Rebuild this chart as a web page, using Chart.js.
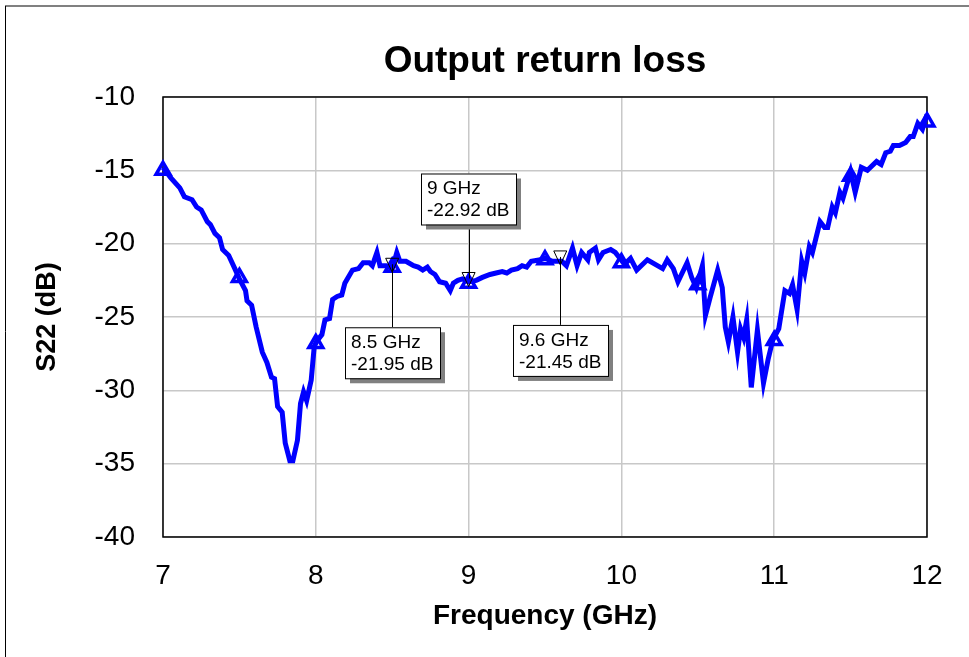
<!DOCTYPE html>
<html>
<head>
<meta charset="utf-8">
<style>
  body { margin: 0; background: #fff; }
  #c { display: block; }
</style>
<script src="https://cdn.jsdelivr.net/npm/chart.js"></script>
</head>
<body>
<canvas id="c" width="969" height="657"></canvas>
<script>
// measured S22 trace (GHz, dB)
var freq = [7.00, 7.05, 7.11, 7.14, 7.19, 7.22, 7.25, 7.29, 7.31, 7.34, 7.37, 7.39, 7.43, 7.47, 7.50,
  7.54, 7.55, 7.58, 7.61, 7.65, 7.68, 7.71, 7.73, 7.75, 7.78, 7.80, 7.83, 7.85, 7.88, 7.90, 7.92, 7.94,
  7.97, 7.99, 8.01, 8.04, 8.06, 8.09, 8.11, 8.14, 8.17, 8.19, 8.24, 8.28, 8.31, 8.35, 8.37, 8.40, 8.42,
  8.46, 8.50, 8.53, 8.55, 8.59, 8.64, 8.67, 8.70, 8.73, 8.75, 8.78, 8.81, 8.85, 8.88, 8.90, 8.93, 8.96,
  9.00, 9.05, 9.09, 9.14, 9.18, 9.22, 9.25, 9.28, 9.32, 9.35, 9.38, 9.41, 9.47, 9.50, 9.55, 9.61, 9.64,
  9.68, 9.71, 9.74, 9.78, 9.79, 9.83, 9.85, 9.88, 9.93, 9.96, 9.99, 10.02, 10.06, 10.10, 10.17, 10.27,
  10.30, 10.34, 10.37, 10.43, 10.46, 10.49, 10.53, 10.55, 10.58, 10.63, 10.66, 10.68, 10.70, 10.73,
  10.76, 10.78, 10.80, 10.82, 10.85, 10.89, 10.93, 10.96, 10.99, 11.03, 11.07, 11.10, 11.12, 11.15,
  11.18, 11.20, 11.23, 11.25, 11.30, 11.33, 11.35, 11.38, 11.40, 11.43, 11.45, 11.50, 11.53, 11.57,
  11.61, 11.67, 11.70, 11.73, 11.76, 11.78, 11.82, 11.86, 11.89, 11.91, 11.94, 11.97, 12.00];
var s22 = [-14.8, -15.5, -16.2, -16.8, -17.0, -17.5, -17.7, -18.5, -18.7, -19.3, -19.6, -20.4, -20.8, -21.7, -22.4,
  -23.2, -23.9, -24.2, -25.7, -27.4, -28.1, -29.1, -29.2, -31.1, -31.5, -33.6, -34.8, -34.8, -33.4, -30.9, -30.1, -30.7,
  -29.3, -27.0, -26.6, -26.2, -25.2, -25.1, -23.8, -23.6, -23.5, -22.7, -21.8, -21.7, -21.3, -21.3, -21.5, -20.6, -21.5,
  -21.5, -21.7, -20.6, -21.2, -21.2, -21.5, -21.6, -21.8, -21.6, -21.9, -22.1, -22.6, -22.7, -23.2, -22.7, -22.5, -22.4,
  -22.6, -22.5, -22.3, -22.1, -22.0, -21.9, -22.0, -21.8, -21.7, -21.5, -21.6, -21.2, -21.1, -21.0, -21.2, -21.2, -21.5,
  -20.3, -21.5, -20.6, -21.1, -20.6, -20.3, -21.1, -20.6, -20.4, -20.6, -21.0, -21.4, -21.0, -21.8, -21.1, -21.7,
  -21.1, -21.7, -22.6, -21.3, -22.3, -23.0, -21.5, -24.9, -23.7, -21.8, -23.0, -25.7, -26.7, -25.0,
  -27.4, -25.8, -26.4, -25.2, -29.8, -25.9, -29.5, -27.9, -26.6, -25.8, -23.2, -23.4, -22.8, -24.5,
  -21.2, -22.0, -20.2, -20.6, -18.5, -18.9, -18.9, -17.5, -17.9, -16.5, -16.9, -15.1, -16.5, -14.8,
  -15.0, -14.4, -14.6, -13.8, -13.7, -13.3, -13.3, -13.1, -12.7, -12.7, -11.8, -12.2, -11.2];

// triangle symbols every 0.5 GHz
var markerFreq = [7, 7.5, 8, 8.5, 9, 9.5, 10, 10.5, 11, 11.5, 12];
var markerVal = [-15.0, -22.3, -26.8, -21.6, -22.7, -21.1, -21.3, -22.8, -26.6, -15.4, -11.7];

// readout markers
var annFreq = [8.5, 9, 9.6];
var annVal = [-21.95, -22.92, -21.45];
var annText = [['8.5 GHz', '-21.95 dB'], ['9 GHz', '-22.92 dB'], ['9.6 GHz', '-21.45 dB']];
var annDy = [55, -62, 60];   // box offset from point, px (negative = above)

var xTicks = [7, 8, 9, 10, 11, 12];
var yTicks = [-10, -15, -20, -25, -30, -35, -40];

var FONT = 'Liberation Sans, Arial, sans-serif';

var framePlugin = {
  id: 'frame',
  beforeDraw: function (chart) {
    var c = chart.ctx;
    c.save();
    c.fillStyle = '#fff';
    c.fillRect(0, 0, chart.width, chart.height);
    c.strokeStyle = '#808080';
    c.lineWidth = 2;
    c.beginPath();
    c.moveTo(5, 6); c.lineTo(chart.width, 6);
    c.stroke();
    c.strokeStyle = '#000';
    c.lineWidth = 1;
    c.beginPath();
    c.moveTo(5.5, 6); c.lineTo(5.5, chart.height);
    c.stroke();
    c.restore();
  },
  beforeDatasetsDraw: function (chart) {
    var a = chart.chartArea, c = chart.ctx;
    c.save();
    c.strokeStyle = '#000';
    c.lineWidth = 1.5;
    c.strokeRect(a.left, a.top, a.right - a.left, a.bottom - a.top);
    c.restore();
  }
};

var annPlugin = {
  id: 'readouts',
  afterDatasetsDraw: function (chart) {
    var c = chart.ctx, xs = chart.scales.x, ys = chart.scales.y;
    var bw = 95, bh = 51;
    c.save();
    c.font = '19px ' + FONT;
    c.textBaseline = 'alphabetic';
    for (var i = 0; i < annFreq.length; i++) {
      var px = xs.getPixelForValue(annFreq[i]);
      var py = ys.getPixelForValue(annVal[i]);
      var bx = Math.round(px - bw / 2);
      var by = annDy[i] > 0 ? py + annDy[i] : py + annDy[i] - bh;
      // leader line
      c.strokeStyle = '#000';
      c.lineWidth = 1;
      c.beginPath();
      c.moveTo(Math.round(px) + 0.5, annDy[i] > 0 ? by : by + bh);
      c.lineTo(Math.round(px) + 0.5, py - 8);
      c.stroke();
      // down triangle, tip on the point
      c.beginPath();
      c.moveTo(px, py);
      c.lineTo(px - 6.5, py - 14);
      c.lineTo(px + 6.5, py - 14);
      c.closePath();
      c.stroke();
      // box with shadow
      c.fillStyle = '#808080';
      c.fillRect(bx + 5, by + 5, bw, bh);
      c.fillStyle = '#fff';
      c.fillRect(bx, by, bw, bh);
      c.strokeRect(bx + 0.5, by + 0.5, bw, bh);
      c.fillStyle = '#000';
      c.fillText(annText[i][0], bx + 6, by + 21);
      c.fillText(annText[i][1], bx + 6, by + 43);
    }
    c.restore();
  }
};

new Chart(document.getElementById('c'), {
  type: 'line',
  data: {
    datasets: [{
      label: 'S22',
      data: freq.map(function (f, i) { return { x: f, y: s22[i] }; }),
      borderColor: '#0000ff',
      borderWidth: 5,
      pointRadius: 0,
      tension: 0,
      fill: false
    }, {
      label: 'symbols',
      data: markerFreq.map(function (f, i) { return { x: f, y: markerVal[i] }; }),
      showLine: false,
      pointStyle: 'triangle',
      pointRadius: 8,
      pointBorderWidth: 3.5,
      pointBorderColor: '#0000ff',
      pointBackgroundColor: 'rgba(255,255,255,0)'
    }]
  },
  options: {
    responsive: false,
    animation: false,
    clip: false,
    layout: { padding: { left: 0, right: 42, top: 0, bottom: 0 } },
    plugins: {
      legend: { display: false },
      tooltip: { enabled: false },
      title: {
        display: true,
        fullSize: false,
        text: 'Output return loss',
        color: '#000',
        font: { family: FONT, size: 37, weight: 'bold' },
        padding: { top: 40, bottom: 12.6 }
      }
    },
    scales: {
      x: {
        type: 'linear',
        min: 7, max: 12,
        afterBuildTicks: function (s) { s.ticks = xTicks.map(function (v) { return { value: v }; }); },
        afterFit: function (s) { s.height = 120; },
        grid: { color: '#c8c8c8', lineWidth: 1.5, drawTicks: false },
        border: { display: false },
        ticks: { color: '#000', padding: 22, maxRotation: 0, font: { family: FONT, size: 28 } },
        title: {
          display: true, text: 'Frequency (GHz)', color: '#000',
          font: { family: FONT, size: 28, weight: 'bold' },
          padding: { top: 0, bottom: 24 }
        }
      },
      y: {
        min: -40, max: -10,
        afterBuildTicks: function (s) { s.ticks = yTicks.map(function (v) { return { value: v }; }); },
        afterFit: function (s) { s.width = 163; },
        grid: { color: '#c8c8c8', lineWidth: 1.5, drawTicks: false },
        border: { display: false },
        ticks: { color: '#000', padding: 28, font: { family: FONT, size: 28 } },
        title: {
          display: true, text: 'S22 (dB)', color: '#000',
          font: { family: FONT, size: 27, weight: 'bold' },
          padding: { top: 31, bottom: 0 }
        }
      }
    }
  },
  plugins: [framePlugin, annPlugin]
});
</script>
</body>
</html>
